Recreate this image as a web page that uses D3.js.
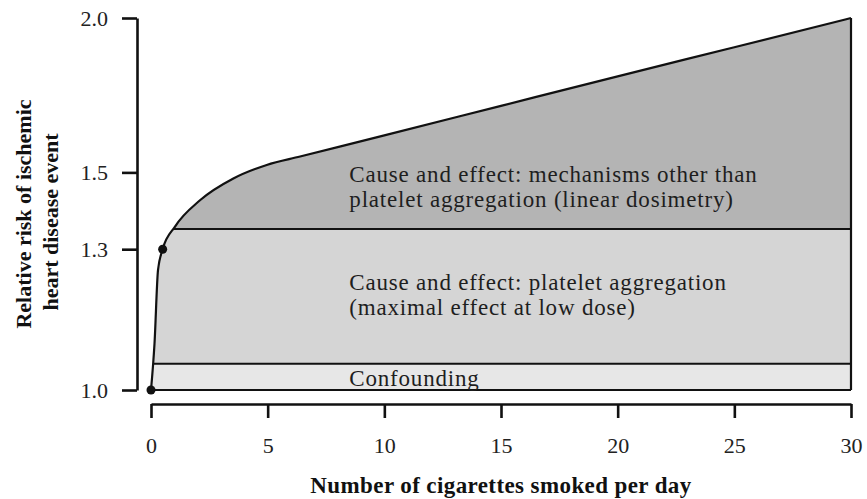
<!DOCTYPE html>
<html>
<head>
<meta charset="utf-8">
<script src="https://cdn.jsdelivr.net/npm/d3@7"></script>
<style>
	body { margin: 0; background: #fff; }
	svg { display: block; }
	text { font-family: "Liberation Serif", serif; fill: #1e1e1e; }
	.axis path, .axis line { stroke: #111; stroke-width: 2.6; }
	.axis text { font-size: 22px; fill: #222; }
	.title { font-size: 22px; font-weight: bold; fill: #111; }
	.title.x { font-size: 23px; letter-spacing: 0.4px; }
	.note { font-size: 23px; letter-spacing: 0.8px; }
	.edge { stroke: #111; stroke-width: 2.2; fill: none; }
	.divider { stroke: #111; stroke-width: 2; }
</style>
</head>
<body>
<div id="chart"></div>
<script>
// curve
const cigarettes = [0, 0.15, 0.3, 0.5, 1.03, 2.1, 3.53, 4.96, 6.39, 10, 15, 20, 25, 30];
const relativeRisk = [1.0, 1.09, 1.25, 1.3, 1.356, 1.424, 1.483, 1.521, 1.545, 1.607, 1.698, 1.794, 1.894, 2.0];
const markedX = [0, 0.5];
const markedY = [1.0, 1.3];

// the three shaded zones
const bandLow = [1.0, 1.05, 1.35];
const bandHigh = [1.05, 1.35, 2.0];
const bandColors = ["#e7e7e7", "#d5d5d5", "#b4b4b4"];

const xTicks = [0, 5, 10, 15, 20, 25, 30];
const yTicks = [1.0, 1.3, 1.5, 2.0];

const noteLines = [
	["Cause and effect: mechanisms other than", "platelet aggregation (linear dosimetry)"],
	["Cause and effect: platelet aggregation", "(maximal effect at low dose)"],
	["Confounding"]
];
const noteX = [8.5, 8.5, 8.5];
const noteY = [1.473, 1.205, 1.007];

const W = 867, H = 499;

const svg = d3.select("#chart").append("svg")
	.attr("width", W)
	.attr("height", H);

const xScale = d3.scaleLinear().domain([0, 30]).range([151, 851]);
const yScale = d3.scaleLog().domain([1, 2]).range([390, 18]);

const pts = cigarettes.map((c, i) => [c, relativeRisk[i]]);

const area = d3.area()
	.x(d => xScale(d[0]))
	.y0(yScale(1))
	.y1(d => yScale(d[1]))
	.curve(d3.curveMonotoneX);

const line = d3.line()
	.x(d => xScale(d[0]))
	.y(d => yScale(d[1]))
	.curve(d3.curveMonotoneX);

svg.append("clipPath")
	.attr("id", "under")
	.append("path")
	.attr("d", area(pts));

const zone = svg.append("g").attr("clip-path", "url(#under)");

zone.selectAll("rect")
	.data(bandLow)
	.enter()
	.append("rect")
	.attr("x", xScale(0))
	.attr("width", xScale(30) - xScale(0))
	.attr("y", (d, i) => yScale(bandHigh[i]))
	.attr("height", (d, i) => yScale(d) - yScale(bandHigh[i]))
	.attr("fill", (d, i) => bandColors[i]);

// boundaries between the zones
zone.selectAll("line")
	.data(bandLow.slice(1))
	.enter()
	.append("line")
	.attr("class", "divider")
	.attr("x1", xScale(0))
	.attr("x2", xScale(30))
	.attr("y1", d => yScale(d))
	.attr("y2", d => yScale(d));

svg.append("line")
	.attr("class", "edge")
	.attr("x1", xScale(0))
	.attr("x2", xScale(30))
	.attr("y1", yScale(1))
	.attr("y2", yScale(1));

svg.append("line")
	.attr("class", "edge")
	.attr("x1", xScale(30))
	.attr("x2", xScale(30))
	.attr("y1", yScale(1))
	.attr("y2", yScale(2));

svg.append("path")
	.attr("class", "edge")
	.attr("d", line(pts));

svg.selectAll("circle")
	.data(markedX)
	.enter()
	.append("circle")
	.attr("cx", d => xScale(d))
	.attr("cy", (d, i) => yScale(markedY[i]))
	.attr("r", 4.5)
	.attr("fill", "#111");

// axes sit a little away from the plot
svg.append("g")
	.attr("class", "axis x-axis")
	.attr("transform", `translate(0, ${yScale(1) + 14})`)
	.call(d3.axisBottom(xScale)
		.tickValues(xTicks)
		.tickSize(14)
		.tickSizeOuter(0)
		.tickPadding(19)
		.tickFormat(d3.format("d")));

svg.append("g")
	.attr("class", "axis y-axis")
	.attr("transform", `translate(${xScale(0) - 14}, 0)`)
	.call(d3.axisLeft(yScale)
		.tickValues(yTicks)
		.tickSize(15)
		.tickSizeOuter(0)
		.tickPadding(14)
		.tickFormat(d3.format(".1f")));

svg.selectAll("g.axis").attr("font-family", null).attr("font-size", null);

// zone labels
noteLines.forEach((lines, i) => {
	const t = svg.append("text")
		.attr("class", "note")
		.attr("x", xScale(noteX[i]))
		.attr("y", yScale(noteY[i]));
	lines.forEach((s, j) => {
		t.append("tspan")
			.attr("x", xScale(noteX[i]))
			.attr("dy", j === 0 ? 0 : "1.1em")
			.text(s);
	});
});

const yTitle = svg.append("text")
	.attr("class", "title")
	.attr("transform", "rotate(-90)")
	.attr("text-anchor", "middle");
yTitle.append("tspan").attr("x", -214).attr("y", 31).text("Relative risk of ischemic");
yTitle.append("tspan").attr("x", -222).attr("y", 58).text("heart disease event");

svg.append("text")
	.attr("class", "title x")
	.attr("x", (xScale(0) + xScale(30)) / 2)
	.attr("y", 493)
	.attr("text-anchor", "middle")
	.text("Number of cigarettes smoked per day");
</script>
</body>
</html>
